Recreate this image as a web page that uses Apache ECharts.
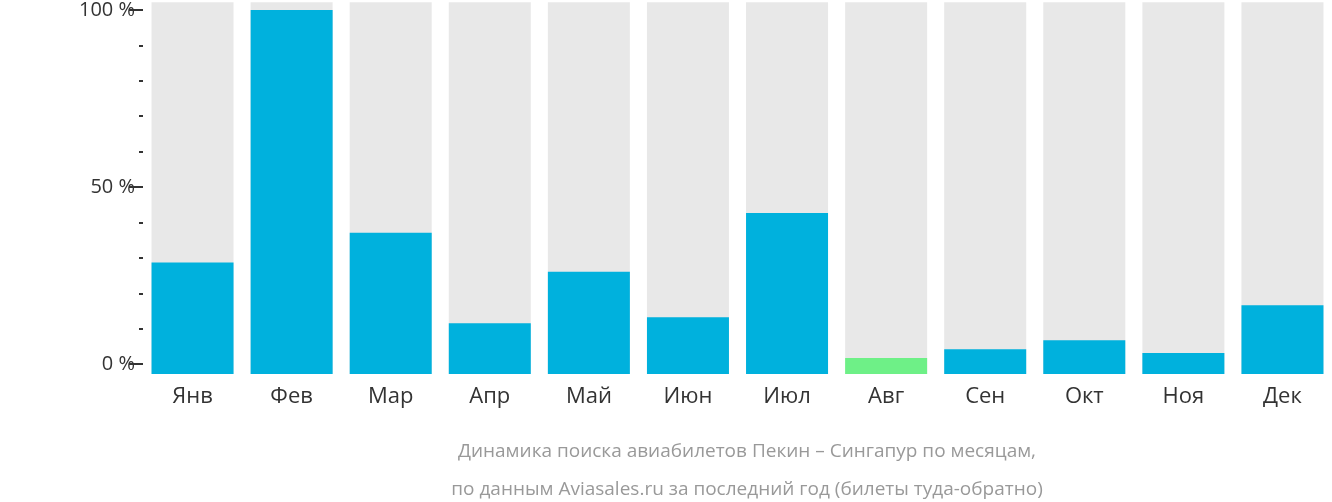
<!DOCTYPE html><html><head><meta charset="utf-8">
<script src="https://cdn.jsdelivr.net/npm/echarts@6/dist/echarts.min.js"></script>
<style>html,body{margin:0;padding:0;background:#fff}#c{width:1332px;height:502px}</style></head>
<body><div id="c"></div><script>
const months=['Янв','Фев','Мар','Апр','Май','Июн','Июл','Авг','Сен','Окт','Ноя','Дек'];
const values=[28.7,100,37.1,11.5,26.1,13.2,42.7,1.7,4.2,6.7,3.1,16.6];
const highlightIndex=7;
const majorTicks=[0,50,100];
const minorTicks=[10,20,30,40,60,70,80,90];
const AX_MIN=-2.8, AX_MAX=102.2;
const blue='#00b1dd', green='#6ef087', grey='#e8e8e8';
const colorOf=i=>i===highlightIndex?green:blue;
const chart=echarts.init(document.getElementById('c'));
chart.setOption({
 animation:false,
 title:{text:'Динамика поиска авиабилетов Пекин – Сингапур по месяцам,\nпо данным Aviasales.ru за последний год (билеты туда-обратно)',
  left:742,top:428,textAlign:'center',textStyle:{color:'#999',fontSize:19,fontWeight:'normal',fontFamily:'Open Sans',lineHeight:38}},
 grid:{left:143,right:-11,top:0,bottom:128},
 xAxis:{type:'category',data:months,axisLine:{show:false},axisTick:{show:false},
  axisLabel:{fontSize:22,color:'#333',fontFamily:'Open Sans',margin:12}},
 yAxis:[
  {type:'value',min:AX_MIN,max:AX_MAX,splitLine:{show:false},axisLine:{show:false},
   axisTick:{show:true,length:14,lineStyle:{color:'#333',width:2},customValues:majorTicks},
   axisLabel:{customValues:majorTicks,formatter:v=>v+' %',fontSize:20,color:'#333',fontFamily:'Open Sans',margin:8}},
  {type:'value',position:'left',min:AX_MIN,max:AX_MAX,splitLine:{show:false},axisLine:{show:false},
   axisTick:{show:true,length:4,lineStyle:{color:'#333',width:2},customValues:minorTicks},
   axisLabel:{show:false}}
 ],
 series:[
  {type:'bar',stack:'bg',barWidth:82,data:months.map(()=>AX_MAX),itemStyle:{color:grey},silent:true},
  {type:'bar',stack:'bg',barWidth:82,data:months.map(()=>AX_MIN),itemStyle:{color:grey},silent:true},
  {type:'bar',stack:'v',barWidth:82,barGap:'-100%',data:values.map((v,i)=>({value:v,itemStyle:{color:colorOf(i)}}))},
  {type:'bar',stack:'v',barWidth:82,barGap:'-100%',data:values.map((v,i)=>({value:AX_MIN,itemStyle:{color:colorOf(i)}}))}
 ]
});
</script></body></html>
